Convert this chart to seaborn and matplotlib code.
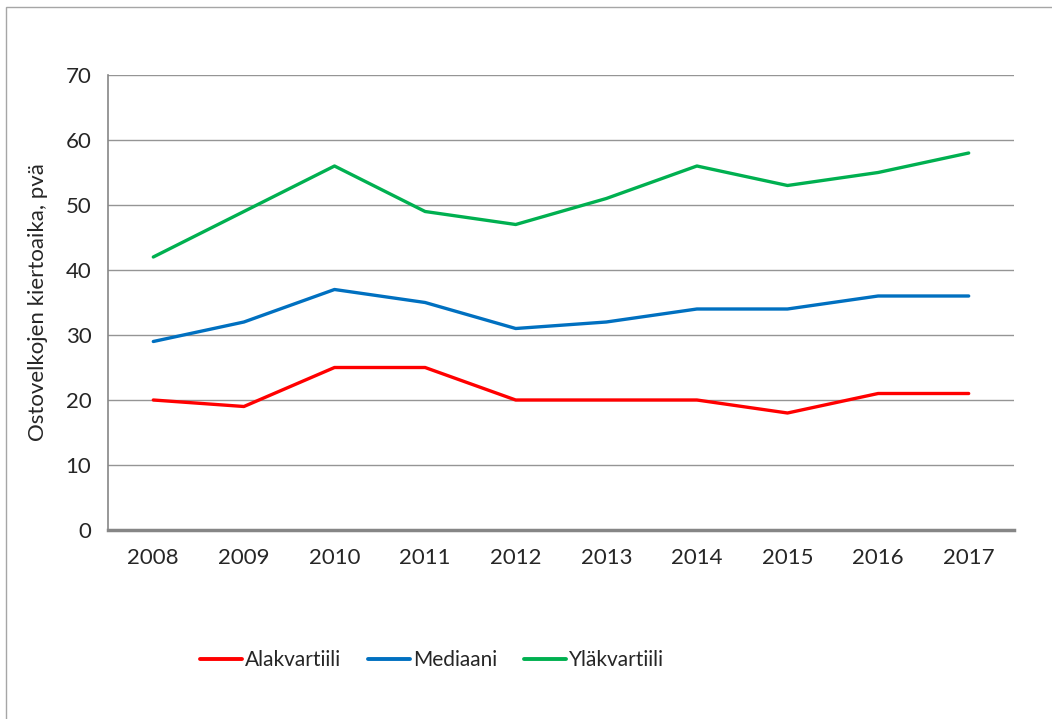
import matplotlib
matplotlib.use("Agg")
import matplotlib.pyplot as plt
import seaborn as sns
import pandas as pd
from matplotlib.patches import Rectangle
from matplotlib.lines import Line2D

years = ["2008", "2009", "2010", "2011", "2012", "2013", "2014", "2015", "2016", "2017"]
alakvartiili = [20, 19, 25, 25, 20, 20, 20, 18, 21, 21]
mediaani = [29, 32, 37, 35, 31, 32, 34, 34, 36, 36]
ylakvartiili = [42, 49, 56, 49, 47, 51, 56, 53, 55, 58]
series_names = ["Alakvartiili", "Mediaani", "Yläkvartiili"]
colors = ["#FF0000", "#0070C0", "#00B050"]
y_label = "Ostovelkojen kiertoaika, pvä"

sns.set_theme(style="white")
plt.rcParams["font.family"] = ["Lato", "DejaVu Sans"]

rows = []
for name, vals in zip(series_names, [alakvartiili, mediaani, ylakvartiili]):
    for i, (yr, v) in enumerate(zip(years, vals)):
        rows.append({"idx": i, "year": yr, "value": v, "series": name})
df = pd.DataFrame(rows)

fig = plt.figure(figsize=(10.52, 7.19), dpi=100)
fig.patch.set_facecolor("white")
# chart border (only top/left visible in reference)
fig.patches.append(Rectangle((6 / 1052, -0.1), 1.2, 1 - 7 / 719 + 0.1,
                             transform=fig.transFigure, fill=False,
                             edgecolor="#A6A6A6", linewidth=1.0))

ax = fig.add_axes([108 / 1052, 1 - 530 / 719, (1014 - 108) / 1052, (530 - 75) / 719])
sns.lineplot(data=df, x="idx", y="value", hue="series", palette=colors,
             hue_order=series_names, linewidth=2.4, ax=ax, legend=False)

fs = 16
ax.set_xlim(-0.5, len(years) - 0.5)
ax.set_ylim(0, 70)
ax.set_yticks(range(0, 71, 10))
ax.set_yticklabels([str(v) for v in range(0, 71, 10)], fontsize=fs)
ax.set_xticks(range(len(years)))
ax.set_xticklabels(years, fontsize=fs)
ax.tick_params(axis="x", which="major", length=0, pad=13)
ax.set_xticks([i - 0.5 for i in range(len(years) + 1)], minor=True)
ax.tick_params(axis="x", which="minor", length=6, width=2, color="#868686", direction="out")
ax.tick_params(axis="y", which="major", length=6, width=1, color="#868686", direction="out", pad=6)
ax.yaxis.grid(True, color="#959595", linewidth=1)
ax.xaxis.grid(False)
ax.set_axisbelow(True)
for s in ["top", "right"]:
    ax.spines[s].set_visible(False)
ax.spines["left"].set_color("#868686")
ax.spines["left"].set_linewidth(1.2)
ax.spines["bottom"].set_color("#868686")
ax.spines["bottom"].set_linewidth(2.5)
ax.set_xlabel("")
ax.set_ylabel(y_label, fontsize=fs)
ax.yaxis.set_label_coords(-60 / 906, 0.5)

handles = [Line2D([0], [0], color=c, linewidth=2.8) for c in colors]
fig.legend(handles, series_names, loc="center", bbox_to_anchor=(432 / 1052, 1 - 660 / 719),
           ncol=3, frameon=False, fontsize=15, handlelength=2.0, handletextpad=0.15,
           columnspacing=1.3)

fig.savefig("out.png", dpi=100, facecolor="white")
